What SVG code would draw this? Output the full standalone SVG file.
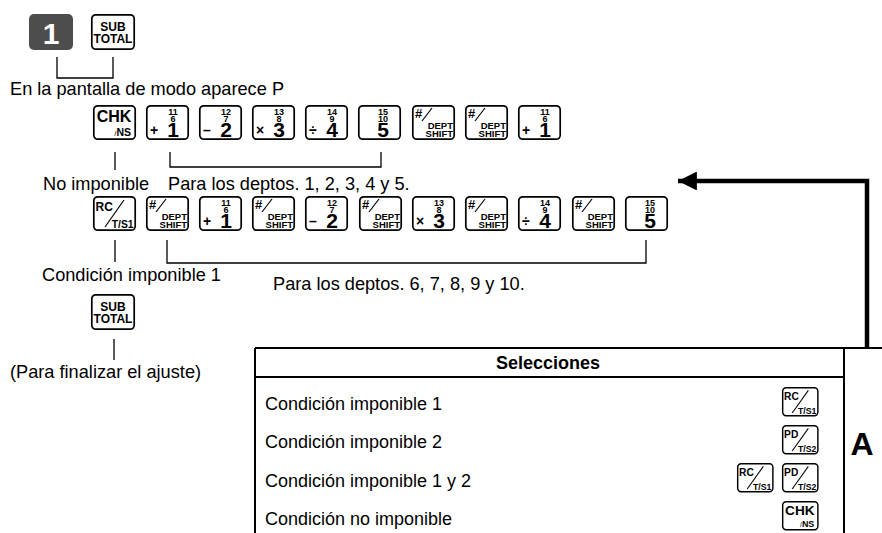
<svg xmlns="http://www.w3.org/2000/svg" width="882" height="533" viewBox="0 0 882 533">
<defs>
<style>
.t{font-family:"Liberation Sans",Arial,Helvetica,sans-serif;fill:#000}
.lbl{font-size:18.2px}
.b{font-weight:bold}
.key{fill:#fff;stroke:#000;stroke-width:1.7}
.sm{font-family:"Liberation Sans",Arial,sans-serif;font-size:9px;font-weight:bold;text-anchor:middle}
.big{font-family:"Liberation Sans",Arial,sans-serif;font-size:21px;font-weight:bold;text-anchor:middle}
.op{font-family:"Liberation Sans",Arial,sans-serif;font-size:14px;font-weight:bold}
.kt{font-family:"Liberation Sans",Arial,sans-serif;font-weight:bold}
.ln{stroke:#000;stroke-width:1.3;fill:none}
.sl{stroke:#000;stroke-width:1.2;fill:none}
.tb{stroke:#000;stroke-width:2;fill:none}
</style>
<marker id="ah" viewBox="0 0 10 10" refX="10" refY="5" markerWidth="4.2" markerHeight="4.2" orient="auto" markerUnits="strokeWidth">
<path d="M0,0 L10,5 L0,10 z" fill="#000"/>
</marker>
</defs>
<rect width="882" height="533" fill="#fff"/>

<!-- top keys -->
<g id="key-1" transform="translate(29,14)">
<rect x="0" y="0" width="44" height="36" rx="5" fill="#4d4d4d"/>
<text class="kt" font-size="30" x="22" y="30" text-anchor="middle" fill="#fff">1</text>
</g>
<g id="key-subtotal-top" transform="translate(91,14)">
<rect class="key" x="0.8" y="0.8" width="42.4" height="34.4" rx="4"/>
<text class="kt" font-size="12" x="22" y="17" text-anchor="middle">SUB</text>
<text class="kt" font-size="12" x="22" y="28.5" text-anchor="middle">TOTAL</text>
</g>
<text id="txt-modo" class="t lbl" x="10" y="95">En la pantalla de modo aparece P</text>

<!-- row 1 -->
<g id="r1-chk" transform="translate(93,105)">
<rect class="key" x="0.8" y="0.8" width="41.4" height="33.4" rx="4"/>
<text class="kt" font-size="16" x="21" y="16.5" text-anchor="middle">CHK</text>
<text class="kt" font-size="10.5" x="38" y="30.5" text-anchor="end"><tspan font-weight="normal" font-size="8">/</tspan>NS</text>
</g>
<g id="r1-d1" transform="translate(146,105)">
<rect class="key" x="0.8" y="0.8" width="41.4" height="33.4" rx="4"/>
<text class="sm" x="27" y="10">11</text><text class="sm" x="27" y="17">6</text>
<text class="big" x="27" y="32">1</text><text class="op" x="4" y="30">+</text>
</g>
<g id="r1-d2" transform="translate(199,105)">
<rect class="key" x="0.8" y="0.8" width="41.4" height="33.4" rx="4"/>
<text class="sm" x="27" y="10">12</text><text class="sm" x="27" y="17">7</text>
<text class="big" x="27" y="32">2</text><text class="op" x="4" y="30">–</text>
</g>
<g id="r1-d3" transform="translate(252,105)">
<rect class="key" x="0.8" y="0.8" width="41.4" height="33.4" rx="4"/>
<text class="sm" x="27" y="10">13</text><text class="sm" x="27" y="17">8</text>
<text class="big" x="27" y="32">3</text><text class="op" x="4" y="30">×</text>
</g>
<g id="r1-d4" transform="translate(305,105)">
<rect class="key" x="0.8" y="0.8" width="41.4" height="33.4" rx="4"/>
<text class="sm" x="27" y="10">14</text><text class="sm" x="27" y="17">9</text>
<text class="big" x="27" y="32">4</text><text class="op" x="4" y="30">÷</text>
</g>
<g id="r1-d5" transform="translate(358,105)">
<rect class="key" x="0.8" y="0.8" width="41.4" height="33.4" rx="4"/>
<text class="sm" x="25" y="10">15</text><text class="sm" x="25" y="17">10</text>
<text class="big" x="25" y="32">5</text>
</g>
<g id="r1-shift1" transform="translate(412,105)">
<rect class="key" x="0.8" y="0.8" width="41.4" height="33.4" rx="4"/>
<text class="kt" font-size="13" x="3" y="12.5">#</text>
<path class="sl" d="M10,16 L20,3"/>
<text class="kt" font-size="9.5" x="41" y="23.5" text-anchor="end">DEPT</text>
<text class="kt" font-size="9.5" x="41" y="32" text-anchor="end">SHIFT</text>
</g>
<g id="r1-shift2" transform="translate(465,105)">
<rect class="key" x="0.8" y="0.8" width="41.4" height="33.4" rx="4"/>
<text class="kt" font-size="13" x="3" y="12.5">#</text>
<path class="sl" d="M10,16 L20,3"/>
<text class="kt" font-size="9.5" x="41" y="23.5" text-anchor="end">DEPT</text>
<text class="kt" font-size="9.5" x="41" y="32" text-anchor="end">SHIFT</text>
</g>
<g id="r1-d1b" transform="translate(518,105)">
<rect class="key" x="0.8" y="0.8" width="41.4" height="33.4" rx="4"/>
<text class="sm" x="27" y="10">11</text><text class="sm" x="27" y="17">6</text>
<text class="big" x="27" y="32">1</text><text class="op" x="4" y="30">+</text>
</g>

<text id="txt-noimp" class="t lbl" x="43" y="190">No imponible</text>
<text id="txt-deptos15" class="t lbl" x="168" y="190">Para los deptos. 1, 2, 3, 4 y 5.</text>

<!-- row 2 -->
<g id="r2-rc" transform="translate(93,196)">
<rect class="key" x="0.8" y="0.8" width="41.4" height="33.4" rx="4"/>
<text class="kt" font-size="12" x="2.5" y="15">RC</text>
<path class="sl" d="M31,4 L12,31"/>
<text class="kt" font-size="10.3" x="40.5" y="32" text-anchor="end">T/S1</text>
</g>
<g id="r2-shift1" transform="translate(146,196)">
<rect class="key" x="0.8" y="0.8" width="41.4" height="33.4" rx="4"/>
<text class="kt" font-size="13" x="3" y="12.5">#</text>
<path class="sl" d="M10,16 L20,3"/>
<text class="kt" font-size="9.5" x="41" y="23.5" text-anchor="end">DEPT</text>
<text class="kt" font-size="9.5" x="41" y="32" text-anchor="end">SHIFT</text>
</g>
<g id="r2-d1" transform="translate(199,196)">
<rect class="key" x="0.8" y="0.8" width="41.4" height="33.4" rx="4"/>
<text class="sm" x="27" y="10">11</text><text class="sm" x="27" y="17">6</text>
<text class="big" x="27" y="32">1</text><text class="op" x="4" y="30">+</text>
</g>
<g id="r2-shift2" transform="translate(252,196)">
<rect class="key" x="0.8" y="0.8" width="41.4" height="33.4" rx="4"/>
<text class="kt" font-size="13" x="3" y="12.5">#</text>
<path class="sl" d="M10,16 L20,3"/>
<text class="kt" font-size="9.5" x="41" y="23.5" text-anchor="end">DEPT</text>
<text class="kt" font-size="9.5" x="41" y="32" text-anchor="end">SHIFT</text>
</g>
<g id="r2-d2" transform="translate(305,196)">
<rect class="key" x="0.8" y="0.8" width="41.4" height="33.4" rx="4"/>
<text class="sm" x="27" y="10">12</text><text class="sm" x="27" y="17">7</text>
<text class="big" x="27" y="32">2</text><text class="op" x="4" y="30">–</text>
</g>
<g id="r2-shift3" transform="translate(359,196)">
<rect class="key" x="0.8" y="0.8" width="41.4" height="33.4" rx="4"/>
<text class="kt" font-size="13" x="3" y="12.5">#</text>
<path class="sl" d="M10,16 L20,3"/>
<text class="kt" font-size="9.5" x="41" y="23.5" text-anchor="end">DEPT</text>
<text class="kt" font-size="9.5" x="41" y="32" text-anchor="end">SHIFT</text>
</g>
<g id="r2-d3" transform="translate(412,196)">
<rect class="key" x="0.8" y="0.8" width="41.4" height="33.4" rx="4"/>
<text class="sm" x="27" y="10">13</text><text class="sm" x="27" y="17">8</text>
<text class="big" x="27" y="32">3</text><text class="op" x="4" y="30">×</text>
</g>
<g id="r2-shift4" transform="translate(465,196)">
<rect class="key" x="0.8" y="0.8" width="41.4" height="33.4" rx="4"/>
<text class="kt" font-size="13" x="3" y="12.5">#</text>
<path class="sl" d="M10,16 L20,3"/>
<text class="kt" font-size="9.5" x="41" y="23.5" text-anchor="end">DEPT</text>
<text class="kt" font-size="9.5" x="41" y="32" text-anchor="end">SHIFT</text>
</g>
<g id="r2-d4" transform="translate(518,196)">
<rect class="key" x="0.8" y="0.8" width="41.4" height="33.4" rx="4"/>
<text class="sm" x="27" y="10">14</text><text class="sm" x="27" y="17">9</text>
<text class="big" x="27" y="32">4</text><text class="op" x="4" y="30">÷</text>
</g>
<g id="r2-shift5" transform="translate(572,196)">
<rect class="key" x="0.8" y="0.8" width="41.4" height="33.4" rx="4"/>
<text class="kt" font-size="13" x="3" y="12.5">#</text>
<path class="sl" d="M10,16 L20,3"/>
<text class="kt" font-size="9.5" x="41" y="23.5" text-anchor="end">DEPT</text>
<text class="kt" font-size="9.5" x="41" y="32" text-anchor="end">SHIFT</text>
</g>
<g id="r2-d5" transform="translate(625,196)">
<rect class="key" x="0.8" y="0.8" width="41.4" height="33.4" rx="4"/>
<text class="sm" x="25" y="10">15</text><text class="sm" x="25" y="17">10</text>
<text class="big" x="25" y="32">5</text>
</g>

<text id="txt-cond1" class="t lbl" x="42" y="281">Condición imponible 1</text>
<text id="txt-deptos610" class="t lbl" x="273" y="290">Para los deptos. 6, 7, 8, 9 y 10.</text>

<g id="key-subtotal-end" transform="translate(91,294)">
<rect class="key" x="0.8" y="0.8" width="42.4" height="34.4" rx="4"/>
<text class="kt" font-size="12" x="22" y="17" text-anchor="middle">SUB</text>
<text class="kt" font-size="12" x="22" y="28.5" text-anchor="middle">TOTAL</text>
</g>
<text id="txt-fin" class="t lbl" x="10" y="378">(Para finalizar el ajuste)</text>

<!-- connectors -->
<g id="connectors">
<path class="ln" d="M57,57 V78 H113 V57"/>
<path class="ln" d="M115,152 V170"/>
<path class="ln" d="M170,152 V167 H381 V152"/>
<path class="ln" d="M115,240 V262"/>
<path class="ln" d="M167,240 V263 H646 V240"/>
<path class="ln" d="M114,339 V360"/>
<path d="M867,348 V181 H678" fill="none" stroke="#000" stroke-width="4.5" marker-end="url(#ah)"/>
</g>

<!-- table -->
<g id="table">
<path class="tb" d="M255,348 H882"/>
<path class="tb" d="M255,348 V533"/>
<path class="tb" d="M255,377 H844"/>
<path class="tb" d="M844,348 V533"/>
<text class="t b" font-size="18" x="548" y="369" text-anchor="middle">Selecciones</text>
<text class="t" font-size="18" x="265" y="410">Condición imponible 1</text>
<text class="t" font-size="18" x="265" y="448">Condición imponible 2</text>
<text class="t" font-size="18" x="265" y="487">Condición imponible 1 y 2</text>
<text class="t" font-size="18" x="265" y="525">Condición no imponible</text>
<text class="t b" font-size="32" x="862" y="455" text-anchor="middle">A</text>
</g>

<g id="tk-rc1" transform="translate(782,387) scale(0.85,0.84)">
<rect class="key" x="0.8" y="0.8" width="41.4" height="33.4" rx="4"/>
<text class="kt" font-size="12" x="2.5" y="15">RC</text>
<path class="sl" d="M31,4 L12,31"/>
<text class="kt" font-size="10.3" x="40.5" y="32" text-anchor="end">T/S1</text>
</g>
<g id="tk-pd1" transform="translate(782,425) scale(0.85,0.84)">
<rect class="key" x="0.8" y="0.8" width="41.4" height="33.4" rx="4"/>
<text class="kt" font-size="12" x="2.5" y="15">PD</text>
<path class="sl" d="M31,4 L12,31"/>
<text class="kt" font-size="10.3" x="40.5" y="32" text-anchor="end">T/S2</text>
</g>
<g id="tk-rc2" transform="translate(737,463) scale(0.85,0.84)">
<rect class="key" x="0.8" y="0.8" width="41.4" height="33.4" rx="4"/>
<text class="kt" font-size="12" x="2.5" y="15">RC</text>
<path class="sl" d="M31,4 L12,31"/>
<text class="kt" font-size="10.3" x="40.5" y="32" text-anchor="end">T/S1</text>
</g>
<g id="tk-pd2" transform="translate(782,463) scale(0.85,0.84)">
<rect class="key" x="0.8" y="0.8" width="41.4" height="33.4" rx="4"/>
<text class="kt" font-size="12" x="2.5" y="15">PD</text>
<path class="sl" d="M31,4 L12,31"/>
<text class="kt" font-size="10.3" x="40.5" y="32" text-anchor="end">T/S2</text>
</g>
<g id="tk-chk" transform="translate(782,501) scale(0.85,0.84)">
<rect class="key" x="0.8" y="0.8" width="41.4" height="33.4" rx="4"/>
<text class="kt" font-size="16" x="21" y="16.5" text-anchor="middle">CHK</text>
<text class="kt" font-size="10.5" x="38" y="30.5" text-anchor="end"><tspan font-weight="normal" font-size="8">/</tspan>NS</text>
</g>
</svg>
